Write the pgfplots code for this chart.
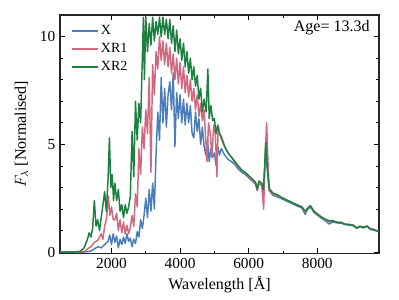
\documentclass[border=0pt]{standalone}
\usepackage{pgfplots}
\pgfplotsset{compat=1.18}
\usepackage{pgfplotstable}
\usepackage{fontspec}
\setmainfont{Liberation Serif}
\usetikzlibrary{calc}
\definecolor{cX}{HTML}{4A7EBB}
\definecolor{cR}{HTML}{D1687E}
\definecolor{cG}{HTML}{1E8040}

\pgfplotstableread{
w f
500 0
1000 0.0
1200 0.0
1400 0.05
1500 0.15
1600 0.25
1700 0.2
1800 0.35
1900 0.5
1950 0.8
2000 0.35
2050 0.85
2100 0.45
2150 0.75
2200 0.2
2250 0.6
2300 0.35
2350 0.7
2400 0.4
2450 0.85
2500 0.5
2550 0.65
2600 0.25
2650 0.6
2700 0.4
2750 0.95
2800 0.7
2850 1.5
2900 1.1
2950 1.7
3000 2.5
3050 1.6
3100 2.9
3150 1.9
3200 3.2
3250 2.0
3300 4.6
3350 6.5
3400 5.2
3450 8.1
3500 6.0
3550 7.6
3600 5.8
3650 7.3
3700 7.9
3750 6.6
3800 8.3
3850 4.9
3900 7.4
3950 6.2
4000 7.3
4050 6.0
4100 7.1
4150 5.9
4200 6.9
4250 6.0
4300 6.8
4350 5.5
4400 5.3
4450 6.5
4500 5.6
4550 6.2
4600 5.0
4650 5.8
4700 4.9
4750 4.5
4800 5.2
4850 4.2
4900 4.8
4950 4.4
5000 4.6
5050 4.0
5100 4.9
5150 4.5
5200 4.8
5300 4.5
5400 4.3
5500 4.2
5600 4.05
5700 3.85
5800 3.7
5900 3.6
6000 3.45
6100 3.3
6200 3.15
6250 2.85
6300 3.2
6380 3.1
6430 2.8
6500 4.6
6540 3.9
6600 2.85
6700 2.65
6850 2.55
7000 2.45
7200 2.3
7400 2.15
7550 2.05
7650 1.75
7700 1.95
7800 2.1
7900 1.85
7980 1.75
8100 1.6
8200 1.5
8350 1.3
8450 1.4
8600 1.35
8700 1.35
8800 1.28
8950 1.25
9050 1.22
9150 1.1
9250 1.18
9350 1.12
9450 1.2
9550 1.05
9650 1.02
9800 0.95
}\dataX

\pgfplotstableread{
w f
500 0
1200 0.02
1300 0.15
1400 0.25
1500 0.45
1600 0.55
1700 0.85
1750 0.6
1800 1.2
1850 1.5
1910 2.6
1950 1.7
2000 2.1
2050 1.5
2100 1.5
2150 1.8
2200 1.0
2250 1.5
2300 0.9
2350 1.4
2400 0.85
2450 1.25
2500 0.85
2550 1.15
2600 1.7
2650 1.2
2700 2.7
2750 2.1
2800 4.8
2850 3.6
2900 5.8
2950 4.8
3000 6.6
3050 5.5
3100 8.1
3150 3.7
3200 8.7
3250 7.3
3300 9.3
3350 8.5
3400 10.0
3450 8.9
3500 9.8
3550 8.7
3600 9.7
3650 8.6
3700 9.5
3750 8.3
3800 9.2
3850 8.0
3900 9.0
3950 7.8
4000 8.8
4050 7.6
4100 8.6
4150 7.4
4200 8.2
4250 7.2
4300 8.0
4350 7.0
4400 7.6
4450 6.6
4500 7.3
4550 6.3
4600 6.9
4650 6.1
4700 6.6
4784 4.2
4830 6.0
4880 5.5
4929 4.4
4980 5.9
5030 5.5
5074 3.5
5110 5.8
5150 5.5
5200 5.4
5300 4.9
5400 4.6
5500 4.4
5600 4.15
5700 3.95
5800 3.8
5900 3.65
6000 3.5
6100 3.35
6200 3.2
6263 2.9
6300 3.2
6380 3.1
6437 2.0
6480 4.5
6524 6.0
6560 4.3
6600 2.9
6700 2.7
6850 2.6
7000 2.5
7200 2.35
7400 2.2
7550 2.1
7650 1.85
7700 2.0
7800 2.15
7900 1.9
7980 1.8
8100 1.65
8200 1.55
8350 1.4
8450 1.45
8600 1.38
8700 1.38
8800 1.3
8950 1.28
9050 1.25
9150 1.12
9250 1.2
9350 1.15
9450 1.22
9550 1.08
9650 1.05
9800 0.95
}\dataRone

\pgfplotstableread{
w f
500 0
1000 0.02
1100 0.05
1200 0.2
1300 0.6
1350 0.9
1400 0.7
1450 1.1
1500 2.4
1550 1.2
1600 1.5
1650 1.0
1700 1.6
1750 2.2
1800 2.8
1850 1.9
1900 3.4
1940 5.3
1980 3.0
2020 3.6
2060 2.4
2100 3.2
2150 2.4
2200 2.9
2250 1.9
2300 2.2
2350 1.6
2400 2.2
2450 1.8
2500 2.1
2550 2.6
2600 5.6
2650 3.5
2700 7.0
2750 5.2
2800 6.9
2850 6.0
2900 9.0
2930 10.9
2960 8.0
3000 10.9
3050 9.3
3100 10.6
3150 9.6
3200 10.9
3250 9.8
3300 10.7
3350 10.1
3400 10.9
3450 10.0
3500 10.9
3550 10.1
3600 10.8
3650 9.9
3700 10.8
3750 9.7
3800 10.5
3850 9.3
3900 10.3
3950 9.2
4000 9.9
4050 8.9
4100 9.7
4150 8.6
4200 9.3
4250 8.3
4300 9.0
4350 8.0
4400 8.6
4450 7.7
4500 8.2
4550 7.1
4600 7.6
4650 6.5
4700 7.1
4760 6.5
4810 8.5
4850 6.2
4900 6.8
4950 6.1
5000 6.2
5050 5.5
5100 5.9
5150 5.5
5200 5.3
5300 4.9
5400 4.6
5500 4.4
5600 4.2
5700 4.0
5800 3.8
5900 3.7
6000 3.55
6100 3.4
6200 3.25
6250 2.95
6300 3.3
6380 3.2
6430 2.9
6500 5.1
6540 4.0
6600 2.95
6700 2.75
6850 2.65
7000 2.5
7200 2.35
7400 2.2
7550 2.1
7650 1.9
7700 2.0
7800 2.15
7900 1.9
7980 1.8
8100 1.65
8200 1.55
8350 1.45
8450 1.45
8600 1.38
8700 1.38
8800 1.3
8950 1.28
9050 1.25
9150 1.12
9250 1.2
9350 1.15
9450 1.2
9550 1.08
9650 1.05
9800 0.95
}\dataRtwo

\begin{document}
\begin{tikzpicture}
\begin{axis}[
  scale only axis,
  width=239pt, height=178.5pt,
  xmin=500, xmax=9800, ymin=-0.05, ymax=11,
  xtick={2000,4000,6000,8000},
  ytick={0,5,10},
  minor x tick num=1,
  minor y tick num=4,
  tick align=inside,
  ticks=both,
  xtick pos=both, ytick pos=both,
  major tick length=4pt, minor tick length=2pt,
  axis line style={line width=0.9pt, black!85},
  every tick/.style={black, line width=0.6pt},
  scaled x ticks=false,
  xticklabel style={/pgf/number format/1000 sep={}},
  /pgf/number format/assume math mode=true,
  tick label style={font=\fontsize{11.5}{12}\selectfont},
  label style={font=\fontsize{12}{14}\selectfont},
  xlabel={Wavelength [Å]},
  ylabel={$F_\lambda$ [Normalised]},
  ylabel style={yshift=2pt},
  xlabel style={yshift=1pt},
  legend style={draw=none, fill=none, at={(0.02,0.98)}, anchor=north west, font=\fontsize{10.5}{12}\selectfont, row sep=1pt},
  legend cell align=left,
  legend image code/.code={\draw[#1, line width=1.2pt] (0pt,0pt) -- (19.5pt,0pt);},
  every axis plot/.append style={line width=1.1pt, line join=round},
]
\addplot[cX] table[x=w,y=f] {\dataX};
\addlegendentry{X}
\addplot[cR] table[x=w,y=f] {\dataRone};
\addlegendentry{XR1}
\addplot[cG] table[x=w,y=f] {\dataRtwo};
\addlegendentry{XR2}
\node[anchor=north east, font=\fontsize{12}{13}\selectfont, inner sep=2pt] at (rel axis cs:0.98,0.99) {Age= 13.3d};
\coordinate (SW) at (rel axis cs:0,0);
\coordinate (NE) at (rel axis cs:1,1);
\end{axis}
\pgfresetboundingbox
\useasboundingbox ($(SW)+(-45pt,-34.5pt)$) rectangle ($(NE)+(15pt,11.25pt)$);
\end{tikzpicture}
\end{document}
